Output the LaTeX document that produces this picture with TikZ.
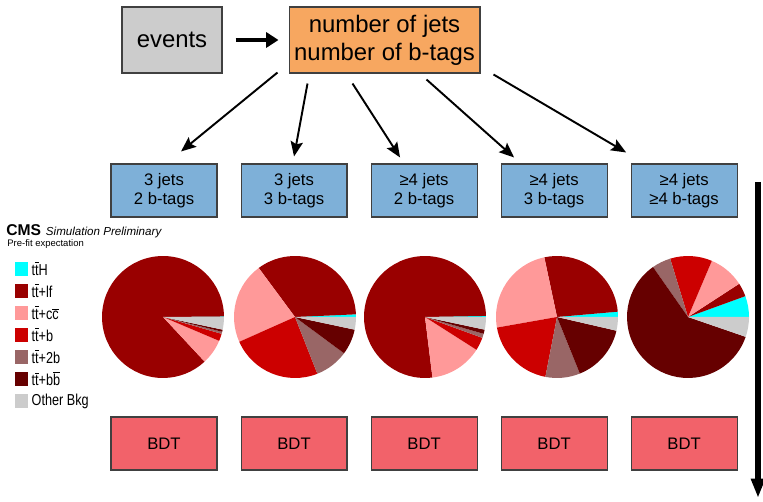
\documentclass[tikz,border=0pt]{standalone}
\usepackage{fontspec}
\setmainfont{Liberation Sans}
\newfontfamily\legfont[FakeStretch=0.8]{Liberation Sans}
\usepackage{xcolor}
\usetikzlibrary{arrows.meta,positioning,calc}

\definecolor{evgray}{RGB}{204,204,204}
\definecolor{selorange}{RGB}{247,167,96}
\definecolor{catblue}{RGB}{126,176,216}
\definecolor{bdtred}{RGB}{242,98,106}
\definecolor{cttH}{RGB}{0,255,255}
\definecolor{cttlf}{RGB}{153,0,0}
\definecolor{cttcc}{RGB}{255,153,153}
\definecolor{cttb}{RGB}{204,0,0}
\definecolor{ctttwob}{RGB}{153,102,102}
\definecolor{cttbb}{RGB}{102,0,0}
\definecolor{cother}{RGB}{204,204,204}

% letter with a bar over it
\newcommand\barred[2]{{\setbox0\hbox{#2}\rlap{\raisebox{#1}{\rule{\wd0}{0.06em}}}\box0}}
\newcommand\tbarred{\barred{0.76em}{t}}

% pie: centre, list of start/end/colour
\newcommand\drawpie[2]{%
  \foreach \from/\to/\col in {#2}
    \fill[\col] (#1) -- ++(\from:1.22cm) arc[start angle=\from, end angle=\to, radius=1.22cm] -- cycle;
}

\begin{document}
\begin{tikzpicture}[
  x=0.02cm, y=-0.02cm,
  box/.style={draw=black!75, line width=0.6pt, align=center, inner sep=0pt},
  topbox/.style={box, minimum height=1.32cm, font=\fontsize{13.6}{15.9}\selectfont},
  catbox/.style={box, fill=catblue, minimum width=2.12cm, minimum height=1.06cm, font=\fontsize{9.5}{10.8}\selectfont},
  bdtbox/.style={box, fill=bdtred, minimum width=2.12cm, minimum height=1.06cm, font=\fontsize{9.5}{11}\selectfont},
  arrow/.style={-{Stealth[length=8.5pt,width=7pt,inset=1.5pt]}, line width=1.1pt},
  fatarrow/.style={-{Triangle[length=7pt,width=8.5pt]}, line width=2.8pt},
  legbox/.style={minimum size=0.28cm, inner sep=0pt},
  legtext/.style={inner sep=0pt, font=\legfont\fontsize{9}{10}\selectfont},
]
\useasboundingbox (0,0) rectangle (763,502);

\node[topbox, fill=evgray, minimum width=2cm] (events) at (172,40) {events};
\node[topbox, fill=selorange, minimum width=3.82cm, right=1.32cm of events] (nsel) {number of jets\\number of b-tags};

\node[catbox] (cat1) at (164,190.5) {3 jets\\2 b-tags};
\node[catbox, right=0.46cm of cat1] (cat2) {3 jets\\3 b-tags};
\node[catbox, right=0.46cm of cat2] (cat3) {≥4 jets\\2 b-tags};
\node[catbox, right=0.46cm of cat3] (cat4) {≥4 jets\\3 b-tags};
\node[catbox, right=0.46cm of cat4] (cat5) {≥4 jets\\≥4 b-tags};

\node[bdtbox, below=3.98cm of cat1] (bdt1) {BDT};
\node[bdtbox, below=3.98cm of cat2] (bdt2) {BDT};
\node[bdtbox, below=3.98cm of cat3] (bdt3) {BDT};
\node[bdtbox, below=3.98cm of cat4] (bdt4) {BDT};
\node[bdtbox, below=3.98cm of cat5] (bdt5) {BDT};

\draw[fatarrow, shorten <=0.26cm, shorten >=0.2cm] (events) -- (nsel);

\draw[arrow] ($(nsel.south west)+(-11,-1)$) -- ($(cat1.north)+(17,-12)$);
\draw[arrow] ($(nsel.south west)+(19,10)$) -- ($(cat2.north)+(0,-7)$);
\draw[arrow] ($(nsel.south west)+(64,10)$) -- ($(cat3.north)+(-24,-6)$);
\draw[arrow] ($(nsel.south west)+(138,6)$) -- ($(cat4.north)+(-40,-6)$);
\draw[arrow] ($(nsel.south east)+(13,1)$) -- ($(cat5.north)+(-58,-11)$);

% flow arrow on the right
\coordinate (flowtop) at (758,182);
\coordinate (flowend) at (758,498);
\draw[-{Triangle[length=11pt,width=7.5pt]}, line width=3pt] (flowtop) -- (flowend);

% pies
\coordinate (pie1) at (163,317);
\coordinate (pie2) at (295,317);
\coordinate (pie3) at (425,317);
\coordinate (pie4) at (557,317);
\coordinate (pie5) at (688,317);
\drawpie{pie1}{0/0.5/cttH, 0.5/313/cttlf, 313/337/cttcc, 337/344/cttb, 344/346/ctttwob, 346/348/cttbb, 348/360/cother}
\drawpie{pie2}{0/2.5/cttH, 2.5/126.5/cttlf, 126.5/204/cttcc, 204/291.5/cttb, 291.5/323.5/ctttwob, 323.5/348/cttbb, 348/360/cother}
\drawpie{pie3}{0/1/cttH, 1/277/cttlf, 277/327.5/cttcc, 327.5/340/cttb, 340/344/ctttwob, 344/348/cttbb, 348/360/cother}
\drawpie{pie4}{0/5/cttH, 5/102/cttlf, 102/190/cttcc, 190/259/cttb, 259/292/ctttwob, 292/347/cttbb, 347/360/cother}
\drawpie{pie5}{0/20/cttH, 20/33/cttlf, 33/67/cttcc, 67/107/cttb, 107/125/ctttwob, 125/341/cttbb, 341/360/cother}

% legend
\node[anchor=base west, inner sep=0pt] (cms) at (6,236) {{\fontsize{8.9}{10}\selectfont\bfseries CMS} {\fontsize{6.6}{8}\selectfont\itshape Simulation Preliminary}};
\node[anchor=base west, inner sep=0pt, font=\fontsize{5.4}{6}\selectfont] (prefit) at (7,247) {Pre-fit expectation};
\foreach \yy/\col/\lab [count=\i] in {269/cttH/{t\tbarred H}, 291/cttlf/{t\tbarred+lf}, 313/cttcc/{t\tbarred+c\barred{0.6em}{c}}, 335/cttb/{t\tbarred+b}, 357/ctttwob/{t\tbarred+2b}, 379/cttbb/{t\tbarred+b\barred{0.8em}{b}}, 401/cother/{Other Bkg}} {
  \node[legbox, fill=\col] (leg\i) at (21.5,\yy) {};
  \node[legtext, right=0.05cm of leg\i] (legt\i) {\lab};
}

\end{tikzpicture}
\end{document}
